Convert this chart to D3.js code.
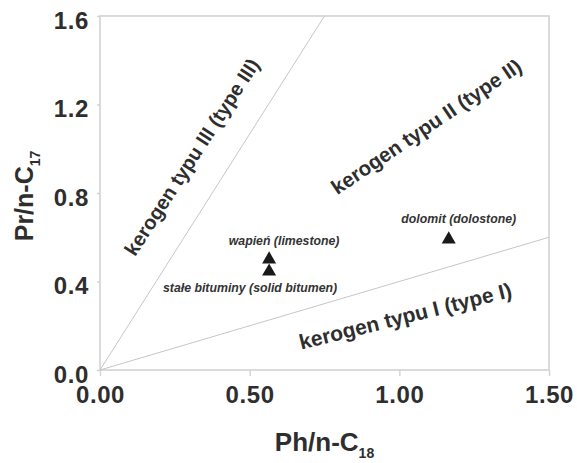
<!DOCTYPE html>
<html>
<head>
<meta charset="utf-8">
<script src="https://cdn.jsdelivr.net/npm/d3@7"></script>
<style>
  html, body { margin: 0; padding: 0; background: #fff; }
  svg { display: block; font-family: "Liberation Sans", Arial, sans-serif; }
</style>
</head>
<body>
<svg id="chart" width="577" height="463"></svg>
<script>
// ---- data ----
const xTicks = [0, 0.5, 1.0, 1.5];
const yTicks = [0, 0.4, 0.8, 1.2, 1.6];
const sampleNames = ["wapień (limestone)", "stałe bituminy (solid bitumen)", "dolomit (dolostone)"];
const samplePh = [0.565, 0.565, 1.165];
const samplePr = [0.50, 0.445, 0.59];
// boundary lines from the origin: end points (Ph, Pr)
const boundaryPh = [0.75, 1.5];
const boundaryPr = [1.6, 0.6];
const regionNames = ["kerogen typu III (type III)", "kerogen typu II (type II)", "kerogen typu I (type I)"];
const regionPh = [0.307, 1.09, 1.02];
const regionPr = [0.963, 1.10, 0.244];

// ---- layout ----
const svg = d3.select("#chart");
const m = { left: 100, right: 549, top: 16, bottom: 370 };
const x = d3.scaleLinear().domain([0, 1.5]).range([m.left, m.right]);
const y = d3.scaleLinear().domain([0, 1.6]).range([m.bottom, m.top]);
const gridGrey = "#d2d2d2";
const textCol = "#2e2e2e";

// frame
svg.append("rect")
  .attr("x", m.left).attr("y", m.top)
  .attr("width", m.right - m.left).attr("height", m.bottom - m.top)
  .attr("fill", "none").attr("stroke", gridGrey).attr("stroke-width", 1.6);

// axes
const xAxis = svg.append("g").attr("transform", `translate(0,${m.bottom})`)
  .call(d3.axisBottom(x).tickValues(xTicks).tickFormat(d3.format(".2f")).tickSize(6).tickPadding(10));
const yAxis = svg.append("g").attr("transform", `translate(${m.left},0)`)
  .call(d3.axisLeft(y).tickValues(yTicks).tickFormat(d3.format(".1f")).tickSize(3).tickPadding(8));
[xAxis, yAxis].forEach(g => {
  g.select(".domain").remove();
  g.selectAll(".tick line").attr("stroke", gridGrey).attr("stroke-width", 1.4);
  g.selectAll(".tick text")
    .attr("fill", textCol).attr("font-size", 24).attr("font-weight", "bold")
    .attr("letter-spacing", "0.6px")
    .attr("font-family", "Liberation Sans, Arial, sans-serif");
});
yAxis.selectAll(".tick text").attr("dy", "0.5em");

// boundary lines
boundaryPh.forEach((ph, i) => {
  svg.append("line")
    .attr("x1", x(0)).attr("y1", y(0))
    .attr("x2", x(ph)).attr("y2", y(boundaryPr[i]))
    .attr("stroke", "#c6c6c6").attr("stroke-width", 1);
});

// region labels
const regionAngles = [-57, -34, -14];
const regionSizes = [20, 20.5, 21];
regionNames.forEach((t, i) => {
  const px = x(regionPh[i]), py = y(regionPr[i]);
  svg.append("text")
    .attr("transform", `translate(${px},${py}) rotate(${regionAngles[i]})`)
    .attr("text-anchor", "middle").attr("dy", "0.35em")
    .attr("font-size", regionSizes[i]).attr("font-weight", "bold").attr("fill", textCol)
    .text(t);
});

// sample points
const tri = d3.symbol().type(d3.symbolTriangle).size(85);
samplePh.forEach((ph, i) => {
  svg.append("path")
    .attr("d", tri())
    .attr("transform", `translate(${x(ph)},${y(samplePr[i])})`)
    .attr("fill", "#1a1a1a");
});

// sample labels
const labelDx = [15, -19, 10];
const labelDy = [-14, 20, -16];
sampleNames.forEach((t, i) => {
  svg.append("text")
    .attr("x", x(samplePh[i]) + labelDx[i])
    .attr("y", y(samplePr[i]) + labelDy[i])
    .attr("text-anchor", "middle")
    .attr("font-size", 12.3).attr("font-weight", "bold").attr("font-style", "italic")
    .attr("fill", "#333")
    .text(t);
});

// axis titles
const xt = svg.append("text")
  .attr("x", (m.left + m.right) / 2).attr("y", 451)
  .attr("text-anchor", "middle").attr("font-size", 26).attr("font-weight", "bold").attr("fill", textCol);
xt.append("tspan").text("Ph/n-C");
xt.append("tspan").attr("font-size", 14).attr("dy", 7).text("18");

const yt = svg.append("text")
  .attr("transform", `translate(33,196) rotate(-90)`)
  .attr("text-anchor", "middle").attr("font-size", 25).attr("font-weight", "bold").attr("fill", textCol);
yt.append("tspan").text("Pr/n-C");
yt.append("tspan").attr("font-size", 14).attr("dy", 7).text("17");
</script>
</body>
</html>
